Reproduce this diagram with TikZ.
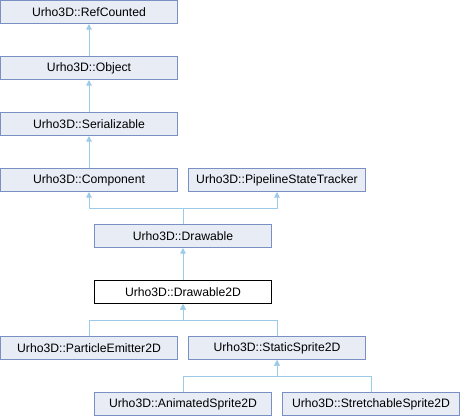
\documentclass[tikz,border=0pt]{standalone}
\usepackage{fontspec}
\setmainfont{Liberation Sans}
\usetikzlibrary{arrows.meta}
\definecolor{boxfill}{HTML}{E8ECF5}
\definecolor{boxdraw}{HTML}{7A8FC4}
\definecolor{edgecol}{HTML}{9CCBE8}
\begin{document}
\begin{tikzpicture}[x=1pt,y=-1pt,
  cls/.style={draw=boxdraw,fill=boxfill,line width=1pt,minimum width=177pt,minimum height=23pt,inner sep=0pt,font=\fontsize{12.2}{14}\selectfont},
  cur/.style={cls,draw=black,fill=white},
  inh/.style={draw=edgecol,line width=1pt,-{Triangle[width=5.5pt,length=5.5pt]}}]
\useasboundingbox (0,0) rectangle (460,416);
\node[cls] (rc) at (89,12) {Urho3D::RefCounted};
\node[cls] (ob) at (89,68) {Urho3D::Object};
\node[cls] (se) at (89,124) {Urho3D::Serializable};
\node[cls] (co) at (89,180) {Urho3D::Component};
\node[cls] (ps) at (277,180) {Urho3D::PipelineStateTracker};
\node[cls] (dr) at (183,236) {Urho3D::Drawable};
\node[cur] (d2) at (183,292) {Urho3D::Drawable2D};
\node[cls] (pe) at (89,348) {Urho3D::ParticleEmitter2D};
\node[cls] (ss) at (277,348) {Urho3D::StaticSprite2D};
\node[cls] (as) at (183,404) {Urho3D::AnimatedSprite2D};
\node[cls] (st) at (371,404) {Urho3D::StretchableSprite2D};
\draw[inh] (ob.north) -- (rc.south);
\draw[inh] (se.north) -- (ob.south);
\draw[inh] (co.north) -- (se.south);
\draw[inh] (dr.north) -- (183,208) -| (co.south);
\draw[inh] (dr.north) -- (183,208) -| (ps.south);
\draw[inh] (d2.north) -- (dr.south);
\draw[inh] (pe.north) -- (89,320) -| (d2.south);
\draw[inh] (ss.north) -- (277,320) -| (d2.south);
\draw[inh] (as.north) -- (183,376) -| (ss.south);
\draw[inh] (st.north) -- (371,376) -| (ss.south);
\end{tikzpicture}
\end{document}
